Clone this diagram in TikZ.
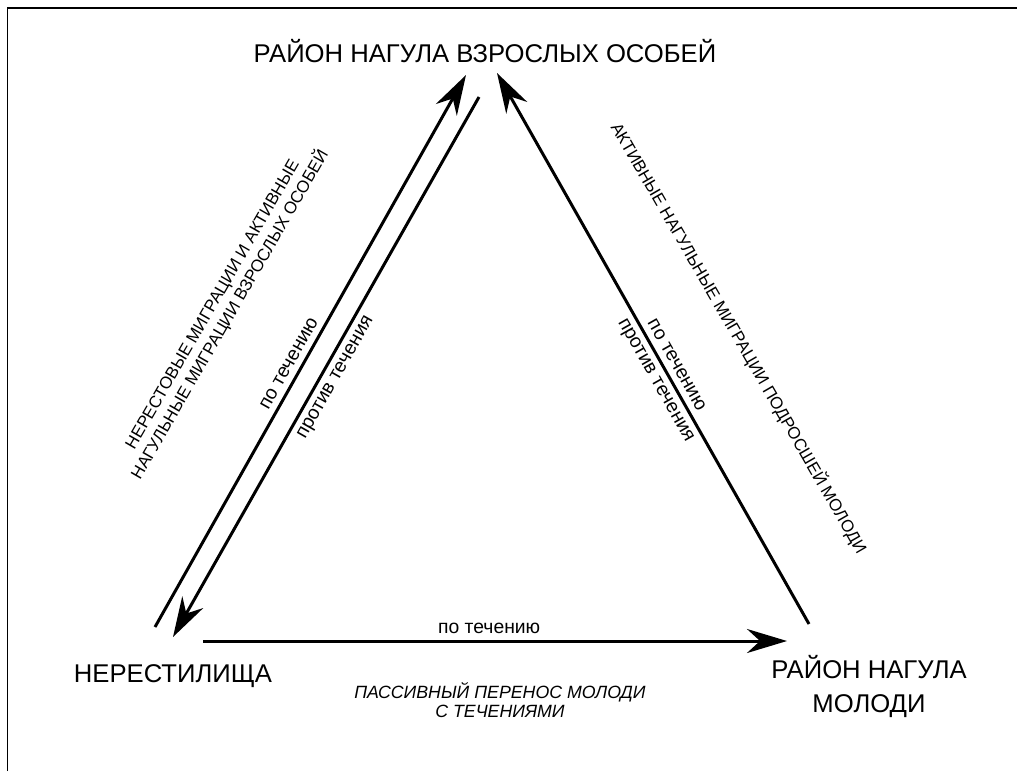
\documentclass[tikz,border=0pt]{standalone}
\usepackage{fontspec}
\setmainfont{Liberation Sans}
\usetikzlibrary{arrows.meta}

\begin{document}
\begin{tikzpicture}[>={Stealth[length=8mm,width=4.8mm]},x=0.02cm,y=-0.02cm,
  flow/.style={->,line width=1.7pt},
  place/.style={font=\fontsize{14.6}{19.3}\selectfont,align=center},
  along/.style={font=\fontsize{11}{13}\selectfont,sloped},
  remark/.style={font=\fontsize{9.6}{11.5}\selectfont,align=center}]
\useasboundingbox (0,0) rectangle (1017,771);
\draw[line width=0.8pt] (7.5,771)--(7.5,8)--(1017,8);

% the three areas
\node[place,anchor=base] (adult) at (485,62) {РАЙОН НАГУЛА ВЗРОСЛЫХ ОСОБЕЙ};
\node[place,anchor=base] (spawn) at (173,682) {НЕРЕСТИЛИЩА};
\node[place,anchor=base] (young) at (869,712) {РАЙОН НАГУЛА\\МОЛОДИ};

% arrow ends
\coordinate (s1) at (155,627);
\coordinate (a1) at (466,75);
\coordinate (a2) at (479,97);
\coordinate (s2) at (173,637);
\coordinate (y1) at (809,624);
\coordinate (a3) at (497,73);
\coordinate (s3) at (203,641);
\coordinate (y2) at (787,641);

\draw[flow] (s1) -- node[along,above,pos=0.466] (up1) {по течению} (a1);
\draw[flow] (a2) -- node[along,below,pos=0.507] (down1) {против течения} (s2);
\draw[flow] (y1) -- node[along,above,pos=0.459] (up2) {по течению}
  node[along,below,pos=0.454] (down2) {против течения} (a3);
\draw[flow] (s3) -- node[along,above,pos=0.49] (drift) {по течению} (y2);

% notes
\node[remark,rotate=60] (leftnote) at (222,310)
  {НЕРЕСТОВЫЕ МИГРАЦИИ И АКТИВНЫЕ\\НАГУЛЬНЫЕ МИГРАЦИИ ВЗРОСЛЫХ ОСОБЕЙ};
\node[remark,rotate=-60] (rightnote) at (739,338)
  {АКТИВНЫЕ НАГУЛЬНЫЕ МИГРАЦИИ ПОДРОСШЕЙ МОЛОДИ};
\node[remark,font=\fontsize{10.1}{10.8}\selectfont\itshape,anchor=base] (passive) at (500,717)
  {ПАССИВНЫЙ ПЕРЕНОС МОЛОДИ\\С ТЕЧЕНИЯМИ};

\end{tikzpicture}
\end{document}
